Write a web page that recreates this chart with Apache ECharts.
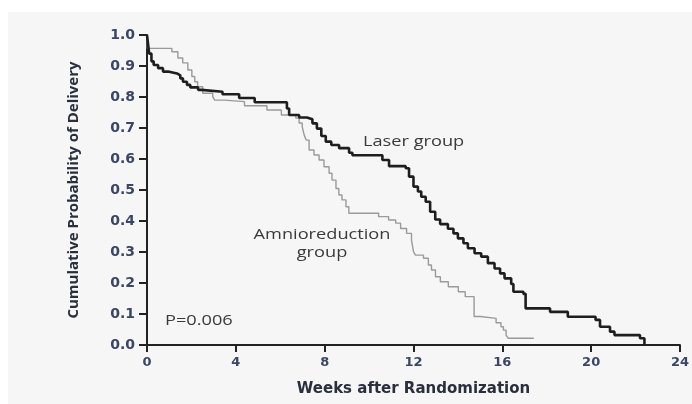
<!DOCTYPE html>
<html>
<head>
<meta charset="utf-8">
<script src="https://cdn.jsdelivr.net/npm/echarts@6/dist/echarts.min.js"></script>
<style>
  html, body { margin: 0; padding: 0; background: #fff; }
  #main { width: 692px; height: 404px; }
</style>
</head>
<body>
<div id="main"></div>
<script>
// x ticks (weeks) and y ticks (probability)
const xTicks = [0, 4, 8, 12, 16, 20, 24];
const yTicks = [0, 0.1, 0.2, 0.3, 0.4, 0.5, 0.6, 0.7, 0.8, 0.9, 1.0];

// Laser group (thick black step curve)
const laserWeeks = [0, 0.05, 0.1, 0.2, 0.3, 0.5, 0.72, 0.95, 1.35, 1.5, 1.62, 1.8, 1.95, 2.3, 2.45,
  3.4, 4.15, 4.85, 6.3, 6.4, 6.85, 7.2, 7.45, 7.65, 7.85, 8.05, 8.3, 8.65, 9.1, 9.25,
  10.6, 10.9, 11.65, 11.8, 12.0, 12.2, 12.35, 12.55, 12.75, 12.98, 13.2, 13.55, 13.8, 14.0,
  14.25, 14.45, 14.75, 15.05, 15.35, 15.65, 15.9, 16.1, 16.4, 16.5, 16.95, 17.05,
  18.15, 18.95, 20.2, 20.4, 20.85, 21.05, 22.2, 22.4];
const laserProb = [1.0, 0.97, 0.94, 0.915, 0.903, 0.893, 0.882, 0.876, 0.870, 0.860, 0.849, 0.839, 0.831, 0.823, 0.817,
  0.809, 0.797, 0.783, 0.763, 0.742, 0.734, 0.728, 0.715, 0.698, 0.674, 0.656, 0.645, 0.635, 0.620, 0.612,
  0.597, 0.577, 0.570, 0.543, 0.511, 0.495, 0.478, 0.462, 0.430, 0.405, 0.390, 0.375, 0.360, 0.344,
  0.328, 0.312, 0.296, 0.285, 0.264, 0.247, 0.231, 0.215, 0.197, 0.172, 0.165, 0.118,
  0.107, 0.091, 0.081, 0.059, 0.043, 0.032, 0.022, 0.0];

// Amnioreduction group (thin gray step curve)
const amnioWeeks = [0, 0.02, 1.12, 1.39, 1.61, 1.84, 2.02, 2.15, 2.28, 2.51, 2.96, 3.05, 3.49,
  4.39, 5.4, 6.05, 6.7, 6.85, 6.99, 7.08, 7.17, 7.3, 7.52, 7.75, 7.97, 8.2, 8.33, 8.51, 8.64,
  8.78, 8.96, 9.09, 10.43, 10.88, 11.2, 11.42, 11.69, 11.91, 12.0, 12.09, 12.45, 12.67, 12.81,
  12.99, 13.21, 13.57, 14.02, 14.33, 14.73, 15.0, 15.72, 15.94, 16.05, 16.17, 16.26, 17.42];
const amnioProb = [1.0, 0.957, 0.946, 0.926, 0.910, 0.887, 0.866, 0.849, 0.833, 0.812, 0.801, 0.790, 0.785,
  0.772, 0.758, 0.742, 0.732, 0.716, 0.704, 0.677, 0.661, 0.629, 0.613, 0.597, 0.575, 0.554, 0.532, 0.505, 0.484,
  0.468, 0.446, 0.425, 0.414, 0.403, 0.393, 0.376, 0.360, 0.339, 0.301, 0.290, 0.280, 0.258, 0.242,
  0.220, 0.204, 0.188, 0.172, 0.156, 0.092, 0.086, 0.072, 0.059, 0.048, 0.032, 0.022, 0.022];

const zip = (xs, ys) => xs.map((x, i) => [x, ys[i]]);

const textColor = "#3b4666";
const font = "'Open Sans', 'Noto Sans', sans-serif";
const wideFont = "'DejaVu Sans', sans-serif";

const chart = echarts.init(document.getElementById("main"));

// annotation text is a little stretched sideways in the original
const note = (text, x, y, align) => ({
  type: "text", x: x, y: y, scaleX: 1.3, z: 5,
  style: { text: text, font: "14px " + font, fill: "#3a3a3a", align: align, verticalAlign: "middle", lineHeight: 18 }
});

const option = {
  backgroundColor: "#fff",
  animation: false,
  graphic: [
    // light panel behind the figure
    { type: "rect", left: 8, top: 12, z: -10, shape: { width: 684, height: 392 }, style: { fill: "#f6f6f6" } },
    note("Laser group", 363, 142, "left"),
    note("Amnioreduction\ngroup", 322, 244, "center"),
    note("P=0.006", 165, 321, "left")
  ],
  grid: { left: 147, right: 9, top: 35, bottom: 59 },
  xAxis: {
    type: "value",
    min: xTicks[0],
    max: xTicks[xTicks.length - 1],
    interval: 4,
    name: "Weeks after Randomization",
    nameLocation: "middle",
    nameGap: 37,
    nameTextStyle: { color: "#2a2f3d", fontWeight: "bold", fontSize: 15, fontFamily: wideFont },
    axisLine: { show: true, lineStyle: { color: "#222", width: 2 } },
    axisTick: { show: true, length: 7, lineStyle: { color: "#222", width: 2 } },
    axisLabel: { color: textColor, fontSize: 13, fontFamily: wideFont, fontWeight: "bold", margin: 11 },
    splitLine: { show: false }
  },
  yAxis: {
    type: "value",
    min: yTicks[0],
    max: yTicks[yTicks.length - 1],
    interval: 0.1,
    name: "Cumulative Probability of Delivery",
    nameLocation: "middle",
    nameGap: 66,
    nameTextStyle: { color: "#2a2f3d", fontWeight: "bold", fontSize: 15, fontFamily: font },
    axisLine: { show: true, lineStyle: { color: "#222", width: 2 } },
    axisTick: { show: true, length: 8, lineStyle: { color: "#222", width: 2 } },
    axisLabel: { color: textColor, fontSize: 14, fontFamily: wideFont, fontWeight: "bold", margin: 12,
      formatter: v => v.toFixed(1) },
    splitLine: { show: false }
  },
  series: [
    {
      name: "Amnioreduction group",
      type: "line",
      step: "end",
      symbol: "none",
      data: zip(amnioWeeks, amnioProb),
      lineStyle: { color: "#9a9a9a", width: 1.4 },
      z: 2
    },
    {
      name: "Laser group",
      type: "line",
      step: "end",
      symbol: "none",
      data: zip(laserWeeks, laserProb),
      lineStyle: { color: "#1e1e1e", width: 2.6 },
      z: 3
    }
  ]
};

option && chart.setOption(option);
</script>
</body>
</html>
